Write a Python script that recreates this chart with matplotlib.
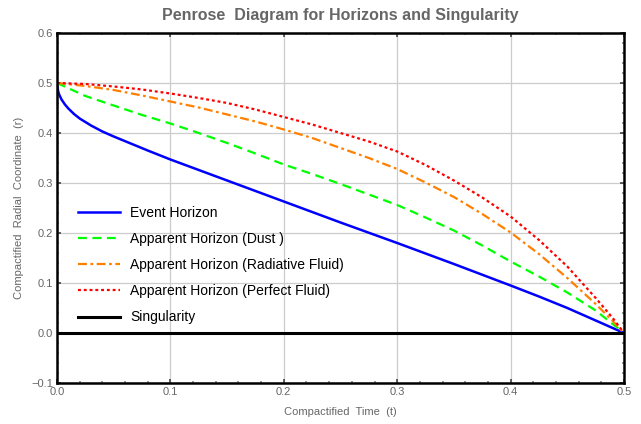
import matplotlib
matplotlib.use("Agg")
import matplotlib.pyplot as plt
from matplotlib.ticker import MultipleLocator

plt.rcParams['font.family'] = ['Liberation Sans', 'DejaVu Sans']

# Horizon des événements (temps compactifié t, rayon compactifié r)
t_evenement = [0.0, 0.001, 0.002, 0.004, 0.007, 0.01, 0.015, 0.02, 0.03, 0.04, 0.05,
               0.065, 0.08, 0.1, 0.125, 0.15, 0.175, 0.2, 0.25, 0.3, 0.35, 0.4,
               0.425, 0.45, 0.475, 0.5]
r_evenement = [0.5, 0.4835, 0.4765, 0.467, 0.457, 0.449, 0.438, 0.429, 0.415, 0.403, 0.393,
               0.379, 0.365, 0.347, 0.326, 0.305, 0.284, 0.263, 0.221, 0.18, 0.138, 0.095,
               0.073, 0.05, 0.025, 0.0]

# Horizons apparents
t_apparent = [0.0, 0.025, 0.05, 0.075, 0.1, 0.125, 0.15, 0.175, 0.2, 0.225, 0.25,
              0.275, 0.3, 0.325, 0.35, 0.375, 0.4, 0.425, 0.45, 0.475, 0.49, 0.5]
r_poussiere = [0.5, 0.474, 0.455, 0.436, 0.419, 0.4, 0.38, 0.359, 0.337, 0.318, 0.298,
               0.277, 0.256, 0.231, 0.205, 0.175, 0.143, 0.113, 0.081, 0.045, 0.018, 0.0]
r_radiatif = [0.5, 0.494, 0.486, 0.475, 0.463, 0.451, 0.437, 0.423, 0.407, 0.39, 0.37,
              0.35, 0.328, 0.301, 0.272, 0.238, 0.201, 0.158, 0.11, 0.058, 0.024, 0.0]
r_parfait = [0.5, 0.498, 0.493, 0.487, 0.479, 0.47, 0.46, 0.447, 0.432, 0.417, 0.40,
             0.383, 0.363, 0.336, 0.305, 0.271, 0.233, 0.186, 0.133, 0.07, 0.03, 0.0]

t_singularite = [0.0, 0.5]
r_singularite = [0.0, 0.0]

gris = '#666666'

fig = plt.figure(figsize=(6.41, 4.24), dpi=100)
ax = fig.add_axes([0.0889, 0.0967, 0.8846, 0.8255])

ax.plot(t_evenement, r_evenement, color='#0000ff', linewidth=1.8, label='Event Horizon')
ax.plot(t_apparent, r_poussiere, color='#00ff00', linewidth=1.6, dashes=(4, 2.5),
        label='Apparent Horizon (Dust )')
ax.plot(t_apparent, r_radiatif, color='#ff8000', linewidth=1.6, dashes=(4, 1.6, 1.2, 1.6),
        label='Apparent Horizon (Radiative Fluid)')
ax.plot(t_apparent, r_parfait, color='#ff0000', linewidth=1.6, dashes=(1.3, 1.3),
        label='Apparent Horizon (Perfect Fluid)')
ax.plot(t_singularite, r_singularite, color='black', linewidth=2.2, label='Singularity')

ax.set_xlim(0, 0.5)
ax.set_ylim(-0.1, 0.6)
ax.xaxis.set_major_locator(MultipleLocator(0.1))
ax.yaxis.set_major_locator(MultipleLocator(0.1))
ax.xaxis.set_minor_locator(MultipleLocator(0.02))
ax.yaxis.set_minor_locator(MultipleLocator(0.02))
ax.grid(True, which='major', color='#cccccc', linewidth=0.9)
ax.set_axisbelow(True)

ax.tick_params(which='major', direction='in', length=3, width=1.2, color='#444444',
               top=True, right=True, labelsize=8, labelcolor=gris, pad=3)
ax.tick_params(which='minor', direction='in', length=1.5, width=1.2, color='#888888',
               top=True, right=True)
for cote in ax.spines.values():
    cote.set_linewidth(1.8)
    cote.set_color('black')

ax.set_title('Penrose  Diagram for Horizons and Singularity', fontsize=11.5,
             fontweight='bold', color=gris, pad=9)
ax.set_xlabel('Compactified  Time  (t)', fontsize=8, color=gris, labelpad=7)
ax.set_ylabel('Compactified  Radial  Coordinate  (r)', fontsize=8, color=gris, labelpad=5)

ax.legend(loc='center left', bbox_to_anchor=(0.015, 0.337), frameon=False, fontsize=10,
          handlelength=3.0, handletextpad=0.75, labelspacing=0.88)

fig.savefig('out.png', dpi=100)
